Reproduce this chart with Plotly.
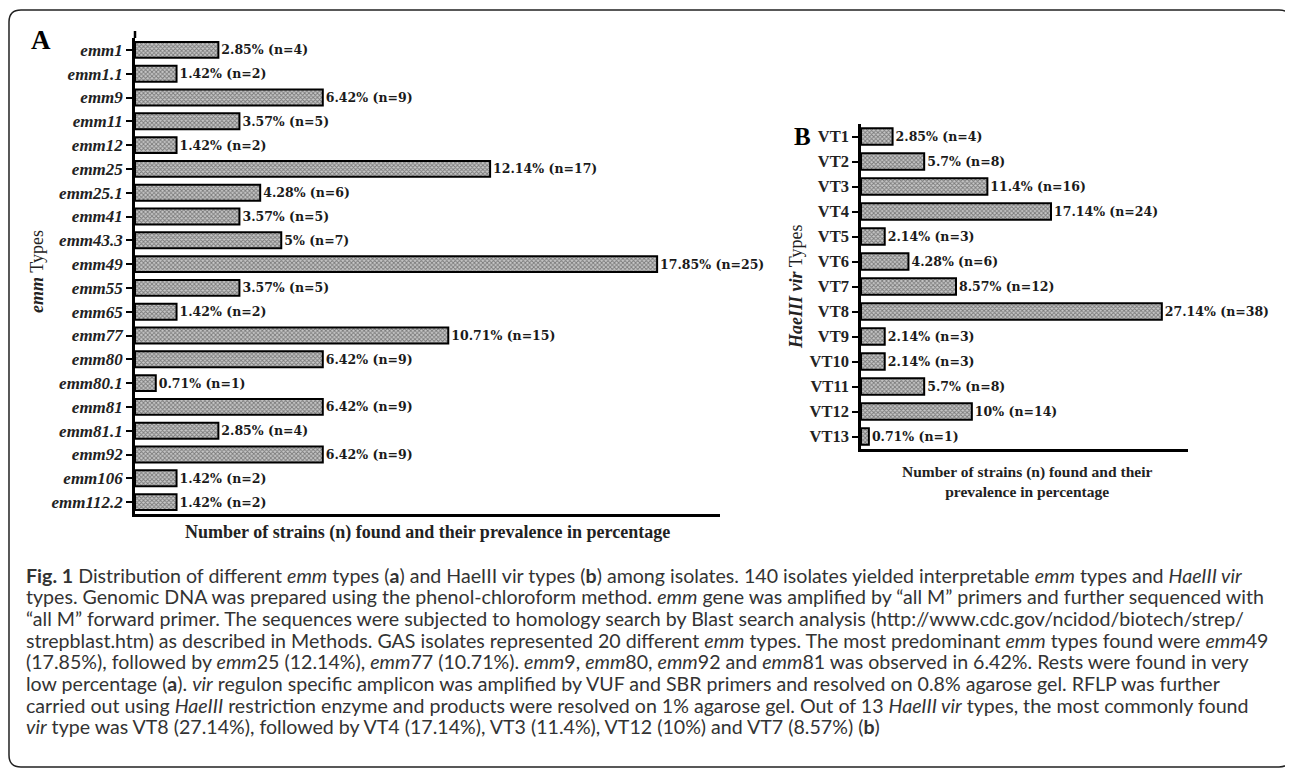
import plotly.graph_objects as go

W, H = 1293, 774
OX, OY = 8, 8  # page body margin offset

emm_types = ["emm1", "emm1.1", "emm9", "emm11", "emm12", "emm25", "emm25.1", "emm41",
             "emm43.3", "emm49", "emm55", "emm65", "emm77", "emm80", "emm80.1", "emm81",
             "emm81.1", "emm92", "emm106", "emm112.2"]
emm_pct = [2.85, 1.42, 6.42, 3.57, 1.42, 12.14, 4.28, 3.57, 5, 17.85, 3.57, 1.42,
           10.71, 6.42, 0.71, 6.42, 2.85, 6.42, 1.42, 1.42]
emm_n = [4, 2, 9, 5, 2, 17, 6, 5, 7, 25, 5, 2, 15, 9, 1, 9, 4, 9, 2, 2]

vt_types = ["VT1", "VT2", "VT3", "VT4", "VT5", "VT6", "VT7", "VT8", "VT9", "VT10",
            "VT11", "VT12", "VT13"]
vt_pct = [2.85, 5.7, 11.4, 17.14, 2.14, 4.28, 8.57, 27.14, 2.14, 2.14, 5.7, 10, 0.71]
vt_n = [4, 8, 16, 24, 3, 6, 12, 38, 3, 3, 8, 14, 1]

x_title = "Number of strains (n) found and their prevalence in percentage"
x_title_b = "Number of strains (n) found and their<br>prevalence in percentage"

caption_lines = [
    "<b>Fig. 1</b> Distribution of different <i>emm</i> types (<b>a</b>) and HaeIII vir types (<b>b</b>) among isolates. 140 isolates yielded interpretable <i>emm</i> types and <i>HaeIII vir</i>",
    "types. Genomic DNA was prepared using the phenol-chloroform method. <i>emm</i> gene was amplified by “all M” primers and further sequenced with",
    "“all M” forward primer. The sequences were subjected to homology search by Blast search analysis (http://www.cdc.gov/ncidod/biotech/strep/",
    "strepblast.htm) as described in Methods. GAS isolates represented 20 different <i>emm</i> types. The most predominant <i>emm</i> types found were <i>emm</i>49",
    "(17.85%), followed by <i>emm</i>25 (12.14%), <i>emm</i>77 (10.71%). <i>emm</i>9, <i>emm</i>80, <i>emm</i>92 and <i>emm</i>81 was observed in 6.42%. Rests were found in very",
    "low percentage (<b>a</b>). <i>vir</i> regulon specific amplicon was amplified by VUF and SBR primers and resolved on 0.8% agarose gel. RFLP was further",
    "carried out using <i>HaeIII</i> restriction enzyme and products were resolved on 1% agarose gel. Out of 13 <i>HaeIII vir</i> types, the most commonly found",
    "<i>vir</i> type was VT8 (27.14%), followed by VT4 (17.14%), VT3 (11.4%), VT12 (10%) and VT7 (8.57%) (<b>b</b>)",
]


def fx(px):
    return (px - OX) / W


def fy(py):
    return 1 - (py - OY) / H


def labels(p, n):
    return [f"{a:g}% (n={b})" for a, b in zip(p, n)]


marker = dict(
    color="#808080",
    line=dict(color="black", width=2),
    pattern=dict(shape="x", fgcolor="#2a2a2a", bgcolor="#c8c8c8", size=3, solidity=0.5),
)
label_font = dict(family="DejaVu Serif", size=12.5, color="#1a1a1a", weight="bold")

fig = go.Figure()
fig.add_trace(go.Bar(
    y=emm_types, x=emm_pct, orientation="h", width=0.67,
    text=labels(emm_pct, emm_n), textposition="outside", textfont=label_font,
    cliponaxis=False, constraintext="none", marker=marker,
    xaxis="x", yaxis="y", showlegend=False, hoverinfo="skip",
))
fig.add_trace(go.Bar(
    y=vt_types, x=vt_pct, orientation="h", width=0.66,
    text=labels(vt_pct, vt_n), textposition="outside", textfont=label_font,
    cliponaxis=False, constraintext="none", marker=marker,
    xaxis="x2", yaxis="y2", showlegend=False, hoverinfo="skip",
))

xax = dict(showline=True, linecolor="black", linewidth=2.5, showticklabels=False,
           ticks="", showgrid=False, zeroline=False)
yax = dict(showline=True, linecolor="black", linewidth=2.5, ticks="outside", ticklen=6,
           tickwidth=2, tickcolor="black", showgrid=False, zeroline=False,
           autorange="reversed")

fig.update_layout(
    width=W, height=H, margin=dict(l=0, r=0, t=0, b=0),
    paper_bgcolor="white", plot_bgcolor="white",
    xaxis=dict(xax, domain=[fx(135), fx(720)], range=[0, 20], anchor="y"),
    yaxis=dict(yax, domain=[fy(514), fy(38)], anchor="x",
               tickfont=dict(family="Liberation Serif", size=17, color="#222",
                             weight="bold", style="italic")),
    xaxis2=dict(xax, domain=[fx(861), fx(1188)], range=[0, 29.5], anchor="y2"),
    yaxis2=dict(yax, domain=[fy(449), fy(124)], anchor="x2",
                tickfont=dict(family="Liberation Serif", size=16.5, color="#222",
                              weight="bold")),
)


def A(text, x, y, font, **kw):
    d = dict(text=text, x=fx(x), y=fy(y), xref="paper", yref="paper", showarrow=False,
             xanchor="center", yanchor="middle", font=font)
    d.update(kw)
    return d


ann = []
ann.append(A(x_title, 427, 532, dict(family="Liberation Serif", size=18, color="#222",
                                     weight="bold")))
ann.append(A(x_title_b, 1027, 481, dict(family="Liberation Serif", size=15.5, color="#222",
                                        weight="bold")))
ann.append(A("<b><i>emm</i></b> Types", 37, 272,
             dict(family="Liberation Serif", size=18, color="#222"), textangle=-90))
ann.append(A("<b><i>HaeIII vir</i></b> Types", 796, 287,
             dict(family="Liberation Serif", size=18, color="#222"), textangle=-90))
ann.append(A("<b>A</b>", 41, 40, dict(family="Liberation Serif", size=27, color="black")))
ann.append(A("<b>B</b>", 802, 137, dict(family="Liberation Serif", size=25, color="black")))
cap_font = dict(family="Lato", size=19.6, color="#333")
for i, line in enumerate(caption_lines):
    ann.append(A(line, 24, 575 + 21.7 * i, cap_font, xanchor="left"))
fig.update_layout(annotations=ann)

# rounded border
x0, x1, y0, y1, r = 9, 1291, 10, 767, 12


def P(x, y):
    return f"{fx(x):.5f},{fy(y):.5f}"


path = (f"M {P(x0 + r, y0)} L {P(x1 - r, y0)} Q {P(x1, y0)} {P(x1, y0 + r)} "
        f"L {P(x1, y1 - r)} Q {P(x1, y1)} {P(x1 - r, y1)} "
        f"L {P(x0 + r, y1)} Q {P(x0, y1)} {P(x0, y1 - r)} "
        f"L {P(x0, y0 + r)} Q {P(x0, y0)} {P(x0 + r, y0)} Z")
fig.add_shape(type="path", path=path, xref="paper", yref="paper",
              line=dict(color="#222", width=1.5))
# small axis stub above panel A
fig.add_shape(type="line", x0=fx(135), x1=fx(135), y0=fy(38), y1=fy(31), xref="paper",
              yref="paper", line=dict(color="black", width=2.5))

fig.write_html("out.html")
